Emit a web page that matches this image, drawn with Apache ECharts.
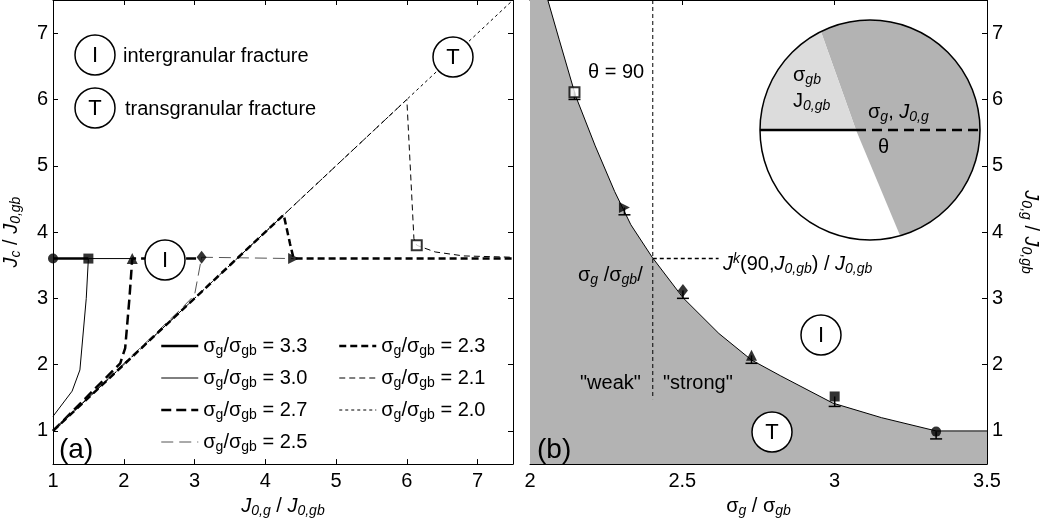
<!DOCTYPE html>
<html>
<head>
<meta charset="utf-8">
<script src="https://cdn.jsdelivr.net/npm/echarts@6/dist/echarts.min.js"></script>
<style>html,body{margin:0;padding:0;background:#fff;}#c{width:1042px;height:523px;}</style>
</head>
<body>
<div id="c"></div>
<script>
// ---------- DATA ----------
// Panel (a): J0,g/J0,gb (x) vs Jc/J0,gb (y) for each sigma ratio
const seriesNames = ['3.3', '3.0', '2.7', '2.5', '2.3', '2.1', '2.0'];
const a33 = [[1, 3.6], [1.5, 3.6]];
const a30 = [[1, 1.22], [1.27, 1.6], [1.38, 1.92], [1.47, 3.0], [1.5, 3.6], [2.12, 3.6]];
const a27 = [[1, 1], [1.95, 2.02], [2.02, 2.25], [2.08, 3.0], [2.12, 3.6], [3.1, 3.6]];
const a25 = [[1, 1], [2.8, 2.83], [3.0, 3.05], [3.1, 3.62], [4.4, 3.6]];
const a23 = [[1, 1], [4.26, 4.26], [4.35, 3.82], [4.4, 3.6], [7.5, 3.6]];
const a21 = [[1, 1], [6.0, 6.0], [6.1, 3.9], [6.14, 3.8], [6.4, 3.7], [6.8, 3.64], [7.5, 3.62]];
const a20 = [[1, 1], [7.5, 7.5]];
// break-point markers in panel (a): sigma 3.3, 3.0, 2.7, 2.5, 2.3, 2.1
const markAX = [1, 1.5, 2.12, 3.1, 4.4, 6.14];
const markAY = [3.6, 3.6, 3.6, 3.62, 3.6, 3.8];
// Panel (b): sigma_g/sigma_gb vs J0,g/J0,gb (same six cases)
const curveX = [2.0, 2.03, 2.059, 2.096, 2.150, 2.214, 2.278, 2.331, 2.401, 2.502, 2.620, 2.727, 2.823, 2.994, 3.154, 3.333, 3.5];
const curveY = [8.5, 8.0, 7.49, 6.90, 6.05, 5.30, 4.61, 4.11, 3.62, 3.01, 2.47, 2.07, 1.83, 1.42, 1.20, 1.00, 1.00];
const markBX = [3.333, 3.0, 2.727, 2.502, 2.31, 2.146];
const markBY = [0.99, 1.52, 2.14, 3.12, 4.37, 6.11];
const markBLow = [0.88, 1.37, 2.02, 3.0, 4.26, 6.0];
const thetaX = 2.403;
const thetaYTop = 7.5, thetaYBottom = 1.48;
const jkY = 3.6, jkXEnd = 2.619;
const xTicksA = [1, 7.5], yRange = [0.5, 7.5], xTicksB = [2, 3.5];

// ---------- STYLE ----------
const FONT = '"Liberation Sans", Arial, Helvetica, sans-serif';
const markSymbols = ['circle', 'rect', 'triangle', 'diamond', 'triangle', 'rect'];
const markRot = [0, 0, 0, 0, -90, 0];
const markFilled = [true, true, true, true, true, false];
const markSize = [10, 10, 11, [10, 13], 11, 10];

const rich = {
  n: {fontSize: 20, fontFamily: FONT, color: '#000', lineHeight: 24},
  i: {fontSize: 20, fontFamily: FONT, fontStyle: 'italic', color: '#000', lineHeight: 24},
  s: {fontSize: 14, fontFamily: FONT, color: '#000', lineHeight: 14, verticalAlign: 'bottom'},
  si: {fontSize: 14, fontFamily: FONT, fontStyle: 'italic', color: '#000', lineHeight: 14, verticalAlign: 'bottom'},
  sup: {fontSize: 14, fontFamily: FONT, fontStyle: 'italic', color: '#000', lineHeight: 14, verticalAlign: 'top'}
};

const lineDefs = {
  '3.3': {data: a33, width: 2.5, type: 'solid', color: '#000'},
  '3.0': {data: a30, width: 1, type: 'solid', color: '#000'},
  '2.7': {data: a27, width: 2.5, type: [10, 5], color: '#000'},
  '2.5': {data: a25, width: 1, type: [12, 6], color: '#555'},
  '2.3': {data: a23, width: 2.5, type: [7, 4], color: '#000'},
  '2.1': {data: a21, width: 1, type: [6, 4], color: '#000'},
  '2.0': {data: a20, width: 1, type: [3, 3], color: '#000'}
};

const series = [];
seriesNames.forEach(function (nm) {
  const d = lineDefs[nm];
  series.push({
    name: nm, type: 'line', xAxisIndex: 0, yAxisIndex: 0, data: d.data,
    symbol: 'none', showSymbol: false, silent: true, z: 3,
    lineStyle: {color: d.color, width: d.width, type: d.type},
    itemStyle: {color: d.color}
  });
});

function markerItems(xs, ys) {
  return xs.map(function (x, k) {
    return {
      value: [x, ys[k]], symbol: markSymbols[k], symbolRotate: markRot[k], symbolSize: markSize[k],
      itemStyle: markFilled[k] ? {color: '#000'} : {color: '#fff', borderColor: '#000', borderWidth: 2}
    };
  });
}
series.push({type: 'scatter', xAxisIndex: 0, yAxisIndex: 0, clip: false, silent: true, z: 5, data: markerItems(markAX, markAY)});

// Panel (b)
series.push({
  type: 'line', xAxisIndex: 2, yAxisIndex: 2, silent: true, symbol: 'none', z: 2,
  data: curveX.map(function (x, k) { return [x, curveY[k]]; }),
  lineStyle: {color: '#000', width: 1}, areaStyle: {color: '#b3b3b3', opacity: 1, origin: 'start'}
});
series.push({
  type: 'line', xAxisIndex: 2, yAxisIndex: 2, silent: true, symbol: 'none', z: 3,
  data: [[thetaX, thetaYTop], [thetaX, thetaYBottom]], lineStyle: {color: '#000', width: 1, type: [4, 3]}
});
series.push({
  type: 'line', xAxisIndex: 2, yAxisIndex: 2, silent: true, symbol: 'none', z: 3,
  data: [[thetaX, jkY], [jkXEnd, jkY]], lineStyle: {color: '#000', width: 1.5, type: [4, 3]}
});
series.push({
  type: 'custom', xAxisIndex: 2, yAxisIndex: 2, silent: true, z: 4,
  data: markBX.map(function (x, k) { return [x, markBY[k], markBLow[k]]; }),
  renderItem: function (params, api) {
    const p1 = api.coord([api.value(0), api.value(1)]);
    const p2 = api.coord([api.value(0), api.value(2)]);
    return {type: 'group', children: [
      {type: 'line', shape: {x1: p1[0], y1: p1[1], x2: p2[0], y2: p2[1]}, style: {stroke: '#000', lineWidth: 1.5}},
      {type: 'line', shape: {x1: p2[0] - 6, y1: p2[1], x2: p2[0] + 6, y2: p2[1]}, style: {stroke: '#000', lineWidth: 1.5}}
    ]};
  }
});
series.push({type: 'scatter', xAxisIndex: 2, yAxisIndex: 2, clip: false, silent: true, z: 5, data: markerItems(markBX, markBY)});

// ---------- AXES ----------
const axLine = {show: true, onZero: false, lineStyle: {color: '#000', width: 1}};
const axTick = {show: true, inside: true, length: 5, lineStyle: {color: '#000', width: 1}};
const lbl = {fontSize: 20, fontFamily: FONT, color: '#000'};
function xAx(grid, mn, mx, iv, pos, showLabel, name, nameGap) {
  return {type: 'value', gridIndex: grid, min: mn, max: mx, interval: iv, position: pos,
    axisLine: axLine, axisTick: axTick, splitLine: {show: false},
    axisLabel: Object.assign({show: showLabel, margin: 7, showMaxLabel: grid === 1}, lbl),
    name: name || '', nameLocation: 'middle', nameGap: nameGap || 0,
    nameTextStyle: {rich: rich, fontSize: 20, fontFamily: FONT, color: '#000'}};
}
function yAx(grid, pos, showLabel, name, nameGap, rot) {
  return {type: 'value', gridIndex: grid, min: yRange[0], max: yRange[1], splitNumber: 7, position: pos,
    axisLine: axLine, axisTick: axTick, splitLine: {show: false},
    axisLabel: Object.assign({show: showLabel, margin: 5, showMinLabel: false, showMaxLabel: false}, lbl),
    name: name || '', nameLocation: 'middle', nameGap: nameGap || 0, nameRotate: rot,
    nameTextStyle: {rich: rich, fontSize: 20, fontFamily: FONT, color: '#000'}};
}
const nameJ0 = '{i|J}{si|0,g}{n| / }{i|J}{si|0,gb}';

// ---------- INSET GEOMETRY (illustration) ----------
const IC = [870, 130], IR = 110, IV = [856, 130];
const aTop = 116.5, aBot = -74.1;
function arcPts(a0, a1, n) {
  const pts = [];
  for (let k = 0; k <= n; k++) {
    const a = (a0 + (a1 - a0) * k / n) * Math.PI / 180;
    pts.push([IC[0] + IR * Math.cos(a), IC[1] - IR * Math.sin(a)]);
  }
  return pts;
}
const darkPts = [IV].concat(arcPts(aTop, aBot, 80));
const lightPts = [IV].concat(arcPts(180, aTop, 30));
const pTop = arcPts(aTop, aTop, 0)[0], pBot = arcPts(aBot, aBot, 0)[0];

function txt(x, y, s, size, extra) {
  return {type: 'text', x: x, y: y, z: 50, silent: true,
    style: Object.assign({text: s, fill: '#000', fontSize: size, fontFamily: FONT, align: 'left', verticalAlign: 'middle', rich: rich}, extra || {})};
}
function ring(cx, cy, letter) {
  return [
    {type: 'circle', z: 40, silent: true, shape: {cx: cx, cy: cy, r: 20}, style: {fill: '#fff', stroke: '#000', lineWidth: 1.5}},
    txt(cx, cy + 1, letter, 22, {align: 'center'})
  ];
}

const graphics = [].concat(
  ring(95, 55, 'I'), [txt(123, 56, 'intergranular fracture', 20)],
  ring(95, 108, 'T'), [txt(125, 109, 'transgranular fracture', 20)],
  ring(165, 260, 'I'), ring(453, 57, 'T'),
  [txt(59, 450, '(a)', 28), txt(537, 450, '(b)', 28)],
  ring(821, 335, 'I'), ring(772, 432, 'T'),
  [txt(588, 72, 'θ = 90', 20)],
  [txt(578, 275, '{n|σ}{si|g}{n| /σ}{si|gb}{n|/}', 20)],
  [txt(723, 264, '{i|J}{sup|k}{n|(90,}{i|J}{si|0,gb}{n|) / }{i|J}{si|0,gb}', 20)],
  [txt(580, 383, '"weak"', 20), txt(663, 383, '"strong"', 20)],
  [
    {type: 'circle', z: 60, silent: true, shape: {cx: IC[0], cy: IC[1], r: IR}, style: {fill: '#fff', stroke: null}},
    {type: 'polygon', z: 61, silent: true, shape: {points: darkPts}, style: {fill: '#b3b3b3'}},
    {type: 'polygon', z: 61, silent: true, shape: {points: lightPts}, style: {fill: '#dcdcdc'}},
    {type: 'circle', z: 62, silent: true, shape: {cx: IC[0], cy: IC[1], r: IR}, style: {fill: null, stroke: '#000', lineWidth: 1.5}},
    {type: 'line', z: 63, silent: true, shape: {x1: IC[0] - IR, y1: IC[1], x2: IV[0], y2: IV[1]}, style: {stroke: '#000', lineWidth: 2.5}},
    {type: 'line', z: 63, silent: true, shape: {x1: IV[0], y1: IV[1], x2: IC[0] + IR, y2: IC[1]}, style: {stroke: '#000', lineWidth: 2.5, lineDash: [10, 6]}},
    {type: 'line', z: 63, silent: true, shape: {x1: pTop[0], y1: pTop[1], x2: pBot[0], y2: pBot[1]}, style: {stroke: '#000', lineWidth: 2, lineDash: [4, 3]}},
    txt(793, 75, '{n|σ}{si|gb}', 20, {z: 64}),
    txt(793, 101, '{n|J}{si|0,gb}', 20, {z: 64}),
    txt(868, 112, '{n|σ}{si|g}{n|, }{i|J}{si|0,g}', 20, {z: 64}),
    txt(878, 147, 'θ', 20, {z: 64})
  ]
);
graphics.forEach(function (g) { if (g.type === 'text') g.z = g.style.z || g.z; });

function legendItems(names) {
  return names.map(function (nm) {
    const d = lineDefs[nm];
    return {name: nm, lineStyle: {width: d.width, color: d.color, type: d.type}, itemStyle: {opacity: 0}};
  });
}
const legendFmt = function (nm) { return '{n|σ}{s|g}{n|/σ}{s|gb}{n| = ' + nm + '}'; };

const option = {
  animation: false,
  backgroundColor: '#fff',
  grid: [
    {left: 53, right: 529, top: 0, bottom: 55},
    {left: 530, right: 44, top: 0, bottom: 55}
  ],
  xAxis: [
    xAx(0, xTicksA[0], xTicksA[1], 1, 'bottom', true, nameJ0, 29),
    xAx(0, xTicksA[0], xTicksA[1], 1, 'top', false),
    xAx(1, xTicksB[0], xTicksB[1], 0.5, 'bottom', true, '{n|σ}{si|g}{n| / σ}{si|gb}', 25),
    xAx(1, xTicksB[0], xTicksB[1], 0.5, 'top', false)
  ],
  yAxis: [
    yAx(0, 'left', true, '{i|J}{si|c}{n| / }{i|J}{si|0,gb}', 30, 90),
    yAx(0, 'right', false),
    yAx(1, 'left', false),
    yAx(1, 'right', true, nameJ0, 32, -90)
  ],
  legend: [
    {left: 160, top: 336, orient: 'vertical', padding: 0, itemGap: 10, itemWidth: 37, itemHeight: 14,
      selectedMode: false, data: legendItems(['3.3', '3.0', '2.7', '2.5']), formatter: legendFmt,
      textStyle: {rich: rich, fontSize: 20, fontFamily: FONT}},
    {left: 338, top: 336, orient: 'vertical', padding: 0, itemGap: 10, itemWidth: 37, itemHeight: 14,
      selectedMode: false, data: legendItems(['2.3', '2.1', '2.0']), formatter: legendFmt,
      textStyle: {rich: rich, fontSize: 20, fontFamily: FONT}}
  ],
  graphic: graphics,
  series: series
};
const chart = echarts.init(document.getElementById('c'), null, {renderer: 'canvas'});
chart.setOption(option);
</script>
</body>
</html>
